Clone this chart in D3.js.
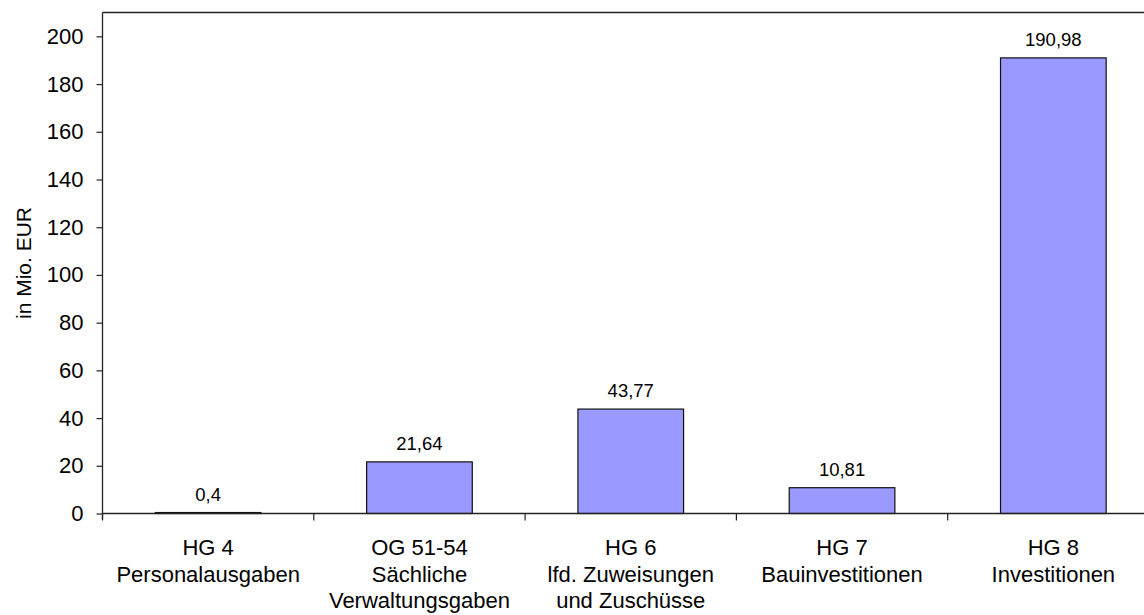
<!DOCTYPE html>
<html>
<head>
<meta charset="utf-8">
<script src="https://cdn.jsdelivr.net/npm/d3@7"></script>
<style>
  html, body { margin: 0; padding: 0; background: #fff; }
  svg { display: block; }
  text { font-family: "Liberation Sans", Arial, sans-serif; fill: #000; }
</style>
</head>
<body>
<svg id="chart" width="1144" height="615"></svg>
<script>
// Ausgaben nach Hauptgruppen, in Mio. EUR
const categories = [
  ["HG 4", "Personalausgaben"],
  ["OG 51-54", "Sächliche", "Verwaltungsgaben"],
  ["HG 6", "lfd. Zuweisungen", "und Zuschüsse"],
  ["HG 7", "Bauinvestitionen"],
  ["HG 8", "Investitionen"]
];
const values = [0.4, 21.64, 43.77, 10.81, 190.98];
const valueLabels = ["0,4", "21,64", "43,77", "10,81", "190,98"];
const yTicks = [0, 20, 40, 60, 80, 100, 120, 140, 160, 180, 200];
const yTitle = "in Mio. EUR";

const svg = d3.select("#chart");
const plot = { left: 102.5, right: 1159, top: 12.5, bottom: 513.5 };

const x = d3.scaleBand()
  .domain(d3.range(values.length))
  .range([plot.left, plot.right])
  .paddingInner(0.5)
  .paddingOuter(0.25);

const y = d3.scaleLinear()
  .domain([0, 210])
  .range([plot.bottom, plot.top]);

// plot frame: top edge
svg.append("line")
  .attr("x1", plot.left).attr("x2", plot.right)
  .attr("y1", plot.top).attr("y2", plot.top)
  .attr("stroke", "#222").attr("stroke-width", 1.3);

// bars
svg.append("g").selectAll("rect")
  .data(values)
  .join("rect")
  .attr("x", (d, i) => x(i))
  .attr("width", x.bandwidth())
  .attr("y", d => y(d))
  .attr("height", d => y(0) - y(d))
  .attr("fill", "#9999ff")
  .attr("stroke", "#111")
  .attr("stroke-width", 1.2);

// value labels
svg.append("g").selectAll("text")
  .data(values)
  .join("text")
  .attr("x", (d, i) => x(i) + x.bandwidth() / 2)
  .attr("y", d => y(d) - 12)
  .attr("text-anchor", "middle")
  .style("font-size", "18.5px")
  .text((d, i) => valueLabels[i]);

// y axis
const yAxis = svg.append("g")
  .attr("transform", `translate(${plot.left},0)`)
  .call(d3.axisLeft(y).tickValues(yTicks).tickSize(6).tickPadding(13).tickFormat(d3.format("d")));
yAxis.select(".domain").remove();
yAxis.selectAll(".tick line").attr("stroke", "#222").attr("stroke-width", 1.2);
yAxis.selectAll(".tick text")
  .style("font-size", "22px")
  .attr("font-family", null);
svg.append("line")
  .attr("x1", plot.left).attr("x2", plot.left)
  .attr("y1", plot.top).attr("y2", plot.bottom + 6)
  .attr("stroke", "#222").attr("stroke-width", 1.3);

// x axis: line and separators between categories
const bandStep = x.step();
const boundaries = d3.range(values.length + 1).map(i => plot.left + i * (plot.right - plot.left) / values.length);
svg.append("line")
  .attr("x1", plot.left).attr("x2", plot.right)
  .attr("y1", plot.bottom).attr("y2", plot.bottom)
  .attr("stroke", "#222").attr("stroke-width", 1.3);
svg.append("g").selectAll("line")
  .data(boundaries)
  .join("line")
  .attr("x1", d => d).attr("x2", d => d)
  .attr("y1", plot.bottom).attr("y2", plot.bottom + 7)
  .attr("stroke", "#222").attr("stroke-width", 1.2);

// category labels
const catG = svg.append("g").selectAll("text")
  .data(categories)
  .join("text")
  .attr("text-anchor", "middle")
  .style("font-size", "22px")
  .attr("x", (d, i) => x(i) + x.bandwidth() / 2)
  .attr("y", 555);
catG.selectAll("tspan")
  .data(d => d)
  .join("tspan")
  .attr("x", function () { return d3.select(this.parentNode).attr("x"); })
  .attr("dy", (d, i) => i === 0 ? 0 : 26.5)
  .text(d => d);

// y axis title
svg.append("text")
  .attr("transform", `translate(31,${(plot.top + plot.bottom) / 2}) rotate(-90)`)
  .attr("text-anchor", "middle")
  .style("font-size", "21px")
  .text(yTitle);
</script>
</body>
</html>
